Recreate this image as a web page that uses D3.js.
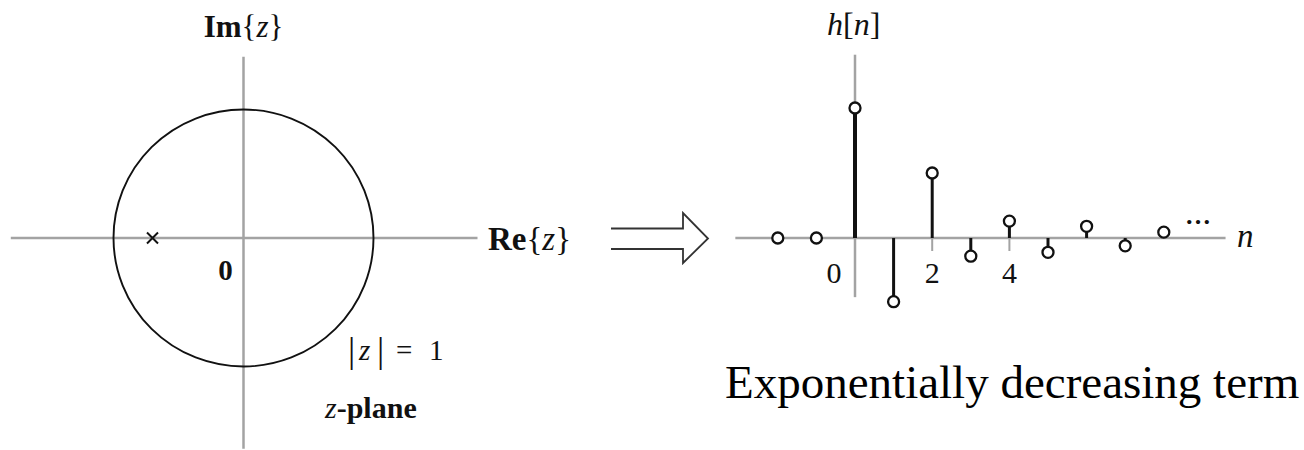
<!DOCTYPE html>
<html>
<head>
<meta charset="utf-8">
<script src="https://cdn.jsdelivr.net/npm/d3@7"></script>
<style>
  html, body { margin: 0; padding: 0; background: #fff; }
  svg { display: block; }
  text { fill: #111; }
</style>
</head>
<body>
<svg id="fig" width="1304" height="450"></svg>
<script>
// z-plane: unit circle and a single pole on the real axis
const unitCircleRadius = 1;
const poleRe = [-0.7];
const poleIm = [0];

// impulse response h[n]
const nValues = [-2, -1, 0, 1, 2, 3, 4, 5, 6, 7, 8];
const hValues = [0, 0, 1, -0.49, 0.5, -0.14, 0.13, -0.11, 0.09, -0.06, 0.045];
const nTickLabels = [0, 2, 4];

const serif = "'Liberation Serif', 'Times New Roman', 'DejaVu Serif', serif";
const svg = d3.select("#fig");
const axisGray = "#a3a3a3";

function label(parent, xPos, yPos, size) {
  return parent.append("text")
    .attr("x", xPos).attr("y", yPos)
    .attr("font-family", serif)
    .attr("font-size", size);
}

// ---------- z-plane ----------
const zx = d3.scaleLinear().domain([-1, 1]).range([113.5, 373.5]);
const zy = d3.scaleLinear().domain([-1, 1]).range([366.5, 109.5]);
const zPlane = svg.append("g");

zPlane.append("line")
  .attr("x1", zx(-1.79)).attr("x2", zx(1.8))
  .attr("y1", zy(0)).attr("y2", zy(0))
  .attr("stroke", axisGray).attr("stroke-width", 2.5);
zPlane.append("line")
  .attr("x1", zx(0)).attr("x2", zx(0))
  .attr("y1", zy(1.41)).attr("y2", zy(-1.64))
  .attr("stroke", axisGray).attr("stroke-width", 2.5);

zPlane.append("ellipse")
  .attr("cx", zx(0)).attr("cy", zy(0))
  .attr("rx", zx(unitCircleRadius) - zx(0))
  .attr("ry", zy(0) - zy(unitCircleRadius))
  .attr("fill", "none").attr("stroke", "#111").attr("stroke-width", 1.9);

// pole marker
const poles = poleRe.map((re, i) => ({ re, im: poleIm[i] }));
const arm = 5.5;
zPlane.selectAll("path.pole").data(poles).join("path")
  .attr("class", "pole")
  .attr("d", d => {
    const x = zx(d.re), y = zy(d.im);
    return `M${x - arm},${y - arm}L${x + arm},${y + arm}M${x - arm},${y + arm}L${x + arm},${y - arm}`;
  })
  .attr("stroke", "#111").attr("stroke-width", 2);

// z-plane labels
const imLabel = label(zPlane, zx(0), 37, 31).attr("text-anchor", "middle");
imLabel.append("tspan").attr("font-weight", "bold").text("Im");
imLabel.append("tspan").text("{");
imLabel.append("tspan").attr("font-style", "italic").text("z");
imLabel.append("tspan").text("}");

const reLabel = label(zPlane, 488, zy(0) + 12, 33);
reLabel.append("tspan").attr("font-weight", "bold").text("Re");
reLabel.append("tspan").text("{");
reLabel.append("tspan").attr("font-style", "italic").text("z");
reLabel.append("tspan").text("}");

label(zPlane, zx(0) - 18, 280, 29)
  .attr("text-anchor", "middle").attr("font-weight", "bold").text("0");

const magLabel = label(zPlane, 348, 360, 29);
magLabel.append("tspan").attr("font-size", 36).attr("y", 362).text("|");
magLabel.append("tspan").attr("x", 359).attr("y", 360).attr("font-style", "italic").text("z");
magLabel.append("tspan").attr("x", 377).attr("y", 362).attr("font-size", 36).text("|");
magLabel.append("tspan").attr("x", 396).attr("y", 360).text("=");
magLabel.append("tspan").attr("x", 429).text("1");

const planeLabel = label(zPlane, 325, 418, 30);
planeLabel.append("tspan").attr("font-style", "italic").text("z");
planeLabel.append("tspan").attr("font-weight", "bold").text("-plane");

// ---------- arrow between panels ----------
svg.append("path")
  .attr("d", "M611,228.5H683V213L708,238.5L683,263V249H611")
  .attr("fill", "none").attr("stroke", "#333").attr("stroke-width", 1.8)
  .attr("stroke-linejoin", "miter");

// ---------- stem plot of h[n] ----------
const x = d3.scaleLinear().domain([0, 1]).range([855, 893.6]);
const y = d3.scaleLinear().domain([0, 1]).range([238, 108]);
const stemPlot = svg.append("g");

stemPlot.append("line")
  .attr("x1", x(-3.1)).attr("x2", x(9.6))
  .attr("y1", y(0)).attr("y2", y(0))
  .attr("stroke", axisGray).attr("stroke-width", 2.5);
stemPlot.append("line")
  .attr("x1", x(0)).attr("x2", x(0))
  .attr("y1", y(1.41)).attr("y2", y(-0.455))
  .attr("stroke", axisGray).attr("stroke-width", 2.5);

// small tick marks below the axis at labelled positions
stemPlot.selectAll("line.tick").data(nTickLabels.filter(d => d !== 0)).join("line")
  .attr("class", "tick")
  .attr("x1", d => x(d)).attr("x2", d => x(d))
  .attr("y1", y(0)).attr("y2", y(0) + 13)
  .attr("stroke", axisGray).attr("stroke-width", 2);

const samples = nValues.map((n, i) => ({ n, h: hValues[i] }));

stemPlot.selectAll("line.stem").data(samples.filter(d => d.h !== 0)).join("line")
  .attr("class", "stem")
  .attr("x1", d => x(d.n)).attr("x2", d => x(d.n))
  .attr("y1", y(0)).attr("y2", d => y(d.h))
  .attr("stroke", "#111")
  .attr("stroke-width", d => d.n === 0 ? 4 : 3);

stemPlot.selectAll("circle.sample").data(samples).join("circle")
  .attr("class", "sample")
  .attr("cx", d => x(d.n)).attr("cy", d => y(d.h))
  .attr("r", 5.5)
  .attr("fill", "#fff").attr("stroke", "#111").attr("stroke-width", 2.3);

stemPlot.selectAll("text.tlabel").data(nTickLabels).join("text")
  .attr("class", "tlabel")
  .attr("x", d => d === 0 ? x(d) - 21 : x(d))
  .attr("y", 283)
  .attr("text-anchor", "middle")
  .attr("font-family", serif)
  .attr("font-size", 30)
  .text(d => d);

label(stemPlot, x(8.55), 224, 26).attr("font-weight", "bold").text("…");

label(stemPlot, 1237, 247, 33).attr("font-style", "italic").text("n");

const hLabel = label(stemPlot, 827, 35, 32);
hLabel.append("tspan").attr("font-style", "italic").text("h");
hLabel.append("tspan").text("[");
hLabel.append("tspan").attr("font-style", "italic").text("n");
hLabel.append("tspan").text("]");

// caption
label(svg, 725, 398, 47).style("fill", "#000")
  .text("Exponentially decreasing term");
</script>
</body>
</html>
